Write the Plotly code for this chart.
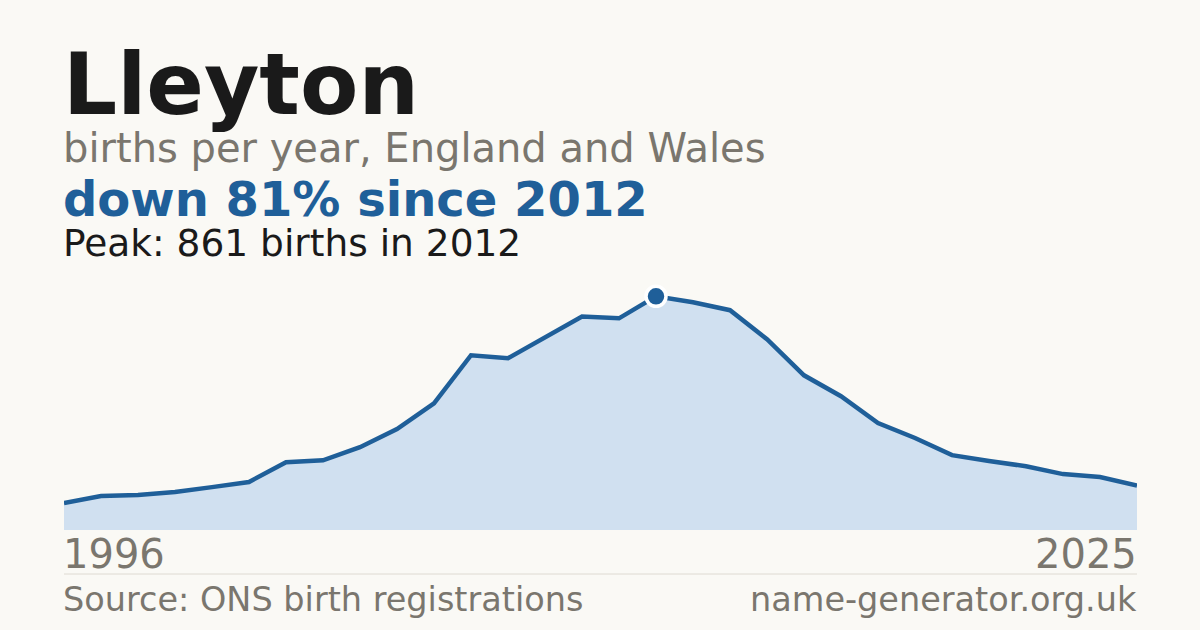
import plotly.graph_objects as go

# births per year
years = list(range(1996, 2026))
births = [99, 125, 129, 140, 158, 177, 250, 257, 305, 372,
          467, 644, 633, 710, 787, 780, 861, 839, 810, 703,
          570, 493, 394, 339, 276, 254, 235, 206, 195, 164]

name = "Lleyton"
subtitle = "births per year, England and Wales"
headline = "down 81% since 2012"
peak_year = 2012
peak_value = 861
source = "Source: ONS birth registrations"
site = "name-generator.org.uk"

BLUE = "#1f5f99"
FILL = "#d0e0f0"
GREY = "#7a766e"
BG = "#faf9f5"
FONT = "DejaVu Sans"

W, H = 1200, 630
L, R, T, B = 64, 63, 273, 100
plot_h = H - T - B


def py(pix):
    # pixel row -> paper y (paper spans the plot area)
    return (H - B - pix) / plot_h


fig = go.Figure()
fig.add_trace(go.Scatter(
    x=years, y=births, mode="lines",
    line=dict(color=BLUE, width=4.5),
    fill="tozeroy", fillcolor=FILL,
    hoverinfo="skip",
))
fig.add_trace(go.Scatter(
    x=[peak_year], y=[peak_value], mode="markers",
    marker=dict(color=BLUE, size=20, line=dict(color="white", width=3.5)),
    hoverinfo="skip",
))

texts = [
    (name, 84, 85, "#1a1a1a", True, 0, "left"),
    (subtitle, 148, 40, GREY, False, 0, "left"),
    (headline, 199, 48, BLUE, True, 0, "left"),
    (f"Peak: {peak_value} births in {peak_year}", 243, 37.5, "#1a1a1a", False, 0, "left"),
    (str(years[0]), 554, 40, GREY, False, 0, "left"),
    (str(years[-1]), 554, 40, GREY, False, 1, "right"),
    (source, 599, 33.5, GREY, False, 0, "left"),
    (site, 599, 33.5, GREY, False, 1, "right"),
]
for txt, ypix, size, color, bold, xp, anchor in texts:
    fig.add_annotation(
        text=f"<b>{txt}</b>" if bold else txt,
        xref="paper", yref="paper", x=xp, y=py(ypix),
        xanchor=anchor, yanchor="middle", showarrow=False,
        xshift=-3 if anchor == "left" else 2,
        font=dict(family=FONT, size=size, color=color),
    )

fig.add_shape(type="line", xref="paper", yref="paper",
              x0=0, x1=1, y0=py(574), y1=py(574),
              line=dict(color="#dedad2", width=1))

fig.update_layout(
    width=W, height=H,
    margin=dict(l=L, r=R, t=T, b=B),
    paper_bgcolor=BG, plot_bgcolor=BG,
    showlegend=False,
    xaxis=dict(range=[years[0], years[-1]], visible=False, fixedrange=True),
    yaxis=dict(range=[0, max(births) * 1.1], visible=False, fixedrange=True),
)

fig.write_html("out.html", config={"displayModeBar": False},
               post_script="document.body.style.margin='0';")
